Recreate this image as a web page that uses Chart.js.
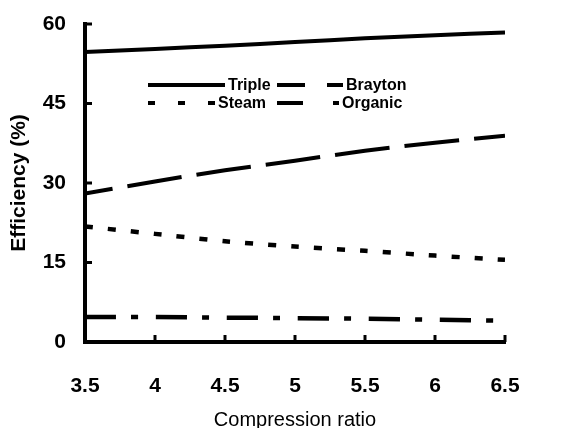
<!DOCTYPE html>
<html>
<head>
<meta charset="utf-8">
<script src="https://cdn.jsdelivr.net/npm/chart.js@4/dist/chart.umd.min.js"></script>
<style>
  html, body { margin: 0; padding: 0; background: #fff; }
  #wrap { width: 563px; height: 428px; }
</style>
</head>
<body>
<div id="wrap"><canvas id="chart" width="563" height="428"></canvas></div>
<script>
// data
const ratios = [3.5, 4, 4.5, 5, 5.5, 6, 6.5];
const triple = [54.7, 55.3, 55.9, 56.6, 57.3, 57.9, 58.4];
const brayton = [28.0, 30.3, 32.4, 34.2, 36.1, 37.6, 38.9];
const steam = [21.8, 20.4, 19.0, 18.0, 17.2, 16.3, 15.5];
const organic = [4.7, 4.7, 4.6, 4.5, 4.4, 4.2, 4.0];
const yTicks = [0, 15, 30, 45, 60];
const xTicks = [3.5, 4, 4.5, 5, 5.5, 6, 6.5];

const pts = (vals) => ratios.map((r, i) => ({x: r, y: vals[i]}));

// legend inside the plot, 2 x 2 grid
const insideLegend = {
    id: 'insideLegend',
    afterDraw(chart) {
        const ctx = chart.ctx;
        const items = [
            {ds: 0, x: 148, y: 85, w: 77, dash: []},
            {ds: 1, x: 277, y: 85, w: 66, dash: [28, 22, 16, 100]},
            {ds: 2, x: 148, y: 103, w: 67, dash: [7, 23]},
            {ds: 3, x: 277, y: 103, w: 62, dash: [26, 30, 6, 100]}
        ];
        ctx.save();
        ctx.font = 'bold 16px "Liberation Sans", Arial, sans-serif';
        ctx.textBaseline = 'middle';
        ctx.fillStyle = '#000';
        items.forEach(it => {
            const ds = chart.data.datasets[it.ds];
            ctx.strokeStyle = '#000';
            ctx.lineWidth = 4;
            ctx.setLineDash(it.dash);
            ctx.beginPath();
            ctx.moveTo(it.x, it.y);
            ctx.lineTo(it.x + it.w, it.y);
            ctx.stroke();
            ctx.fillText(ds.label, it.x + it.w + 3, it.y + 1);
        });
        ctx.restore();
    }
};

// small tick marks pointing into the plot
const innerTicks = {
    id: 'innerTicks',
    afterDraw(chart) {
        const ctx = chart.ctx;
        const a = chart.chartArea;
        const xs = chart.scales.x, ys = chart.scales.y;
        ctx.save();
        ctx.strokeStyle = '#000';
        ctx.lineWidth = 3;
        yTicks.slice(1).forEach(v => {
            const py = ys.getPixelForValue(v);
            ctx.beginPath();
            ctx.moveTo(a.left, py);
            ctx.lineTo(a.left + 7, py);
            ctx.stroke();
        });
        xTicks.slice(1).forEach(v => {
            const px = xs.getPixelForValue(v);
            ctx.beginPath();
            ctx.moveTo(px, a.bottom);
            ctx.lineTo(px, a.bottom - 7);
            ctx.stroke();
        });
        ctx.restore();
    }
};

const tickFont = {family: '"Liberation Sans", Arial, sans-serif', size: 21, weight: 'bold'};

new Chart(document.getElementById('chart').getContext('2d'), {
    type: 'line',
    data: {
        datasets: [
            {label: 'Triple', data: pts(triple), borderColor: '#000', borderWidth: 4, borderDash: []},
            {label: 'Brayton', data: pts(brayton), borderColor: '#000', borderWidth: 4, borderDash: [55, 15], borderDashOffset: 27},
            {label: 'Steam', data: pts(steam), borderColor: '#000', borderWidth: 4.5, borderDash: [8, 15]},
            {label: 'Organic', data: pts(organic), borderColor: '#000', borderWidth: 4.5, borderDash: [31, 15, 7, 18]}
        ]
    },
    options: {
        responsive: false,
        animation: false,
        devicePixelRatio: 1,
        layout: {padding: {top: 24, right: 58, left: 0, bottom: 0}},
        elements: {
            point: {radius: 0},
            line: {tension: 0.2, fill: false, borderCapStyle: 'butt'}
        },
        plugins: {
            legend: {display: false},
            tooltip: {enabled: false}
        },
        scales: {
            x: {
                type: 'linear',
                min: 3.5,
                max: 6.5,
                afterFit: (s) => { s.height = 86; },
                afterBuildTicks: (s) => { s.ticks = xTicks.map(v => ({value: v})); },
                grid: {display: false, drawTicks: false},
                border: {display: true, color: '#000', width: 4},
                ticks: {
                    color: '#000',
                    font: tickFont,
                    padding: 32,
                    maxRotation: 0,
                    callback: (v) => String(v)
                },
                title: {
                    display: true,
                    text: 'Compression ratio',
                    color: '#000',
                    font: {family: '"Liberation Sans", Arial, sans-serif', size: 20, lineHeight: 1},
                    padding: {top: 0, bottom: -2}
                }
            },
            y: {
                min: 0,
                max: 60,
                afterFit: (s) => { s.width = 85; s.paddingTop = 0; s.paddingBottom = 0; },
                afterBuildTicks: (s) => { s.ticks = yTicks.map(v => ({value: v})); },
                grid: {display: false, drawTicks: false},
                border: {display: true, color: '#000', width: 4},
                ticks: {
                    color: '#000',
                    font: tickFont,
                    padding: 19
                },
                title: {
                    display: true,
                    text: 'Efficiency (%)',
                    color: '#000',
                    font: {family: '"Liberation Sans", Arial, sans-serif', size: 21, weight: 'bold', lineHeight: 1},
                    padding: {top: 9, bottom: 0}
                }
            }
        }
    },
    plugins: [insideLegend, innerTicks]
});
</script>
</body>
</html>
